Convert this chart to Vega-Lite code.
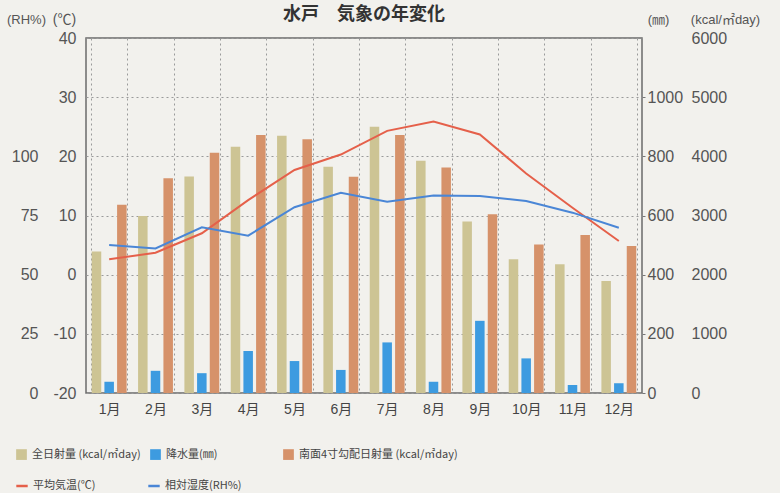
{
  "$schema": "https://vega.github.io/schema/vega-lite/v6.json",
  "width": 556,
  "height": 355,
  "autosize": {"type": "none"},
  "padding": {"left": 86, "top": 38, "right": 138, "bottom": 100},
  "background": "#f2f1ed",
  "title": {
    "text": "水戸　気象の年変化",
    "font": "Noto Sans CJK JP",
    "fontSize": 18,
    "fontWeight": "bold",
    "color": "#333333",
    "frame": "group",
    "anchor": "middle",
    "baseline": "bottom",
    "offset": 0,
    "dy": 30
  },
  "data": {
    "values": [
      {"month": "1月", "series": "全日射量 (kcal/㎡day)", "value": 2390},
      {"month": "2月", "series": "全日射量 (kcal/㎡day)", "value": 2990},
      {"month": "3月", "series": "全日射量 (kcal/㎡day)", "value": 3660},
      {"month": "4月", "series": "全日射量 (kcal/㎡day)", "value": 4160},
      {"month": "5月", "series": "全日射量 (kcal/㎡day)", "value": 4350},
      {"month": "6月", "series": "全日射量 (kcal/㎡day)", "value": 3825},
      {"month": "7月", "series": "全日射量 (kcal/㎡day)", "value": 4500},
      {"month": "8月", "series": "全日射量 (kcal/㎡day)", "value": 3925},
      {"month": "9月", "series": "全日射量 (kcal/㎡day)", "value": 2900},
      {"month": "10月", "series": "全日射量 (kcal/㎡day)", "value": 2260},
      {"month": "11月", "series": "全日射量 (kcal/㎡day)", "value": 2175},
      {"month": "12月", "series": "全日射量 (kcal/㎡day)", "value": 1895},
      {"month": "1月", "series": "降水量(㎜)", "value": 38},
      {"month": "2月", "series": "降水量(㎜)", "value": 75},
      {"month": "3月", "series": "降水量(㎜)", "value": 67},
      {"month": "4月", "series": "降水量(㎜)", "value": 142},
      {"month": "5月", "series": "降水量(㎜)", "value": 108},
      {"month": "6月", "series": "降水量(㎜)", "value": 78},
      {"month": "7月", "series": "降水量(㎜)", "value": 171},
      {"month": "8月", "series": "降水量(㎜)", "value": 38},
      {"month": "9月", "series": "降水量(㎜)", "value": 244},
      {"month": "10月", "series": "降水量(㎜)", "value": 117},
      {"month": "11月", "series": "降水量(㎜)", "value": 27},
      {"month": "12月", "series": "降水量(㎜)", "value": 33},
      {"month": "1月", "series": "南面4寸勾配日射量 (kcal/㎡day)", "value": 3180},
      {"month": "2月", "series": "南面4寸勾配日射量 (kcal/㎡day)", "value": 3630},
      {"month": "3月", "series": "南面4寸勾配日射量 (kcal/㎡day)", "value": 4060},
      {"month": "4月", "series": "南面4寸勾配日射量 (kcal/㎡day)", "value": 4360},
      {"month": "5月", "series": "南面4寸勾配日射量 (kcal/㎡day)", "value": 4290},
      {"month": "6月", "series": "南面4寸勾配日射量 (kcal/㎡day)", "value": 3656},
      {"month": "7月", "series": "南面4寸勾配日射量 (kcal/㎡day)", "value": 4360},
      {"month": "8月", "series": "南面4寸勾配日射量 (kcal/㎡day)", "value": 3810},
      {"month": "9月", "series": "南面4寸勾配日射量 (kcal/㎡day)", "value": 3020},
      {"month": "10月", "series": "南面4寸勾配日射量 (kcal/㎡day)", "value": 2510},
      {"month": "11月", "series": "南面4寸勾配日射量 (kcal/㎡day)", "value": 2670},
      {"month": "12月", "series": "南面4寸勾配日射量 (kcal/㎡day)", "value": 2485},
      {"month": "1月", "series": "平均気温(℃)", "value": 2.6},
      {"month": "2月", "series": "平均気温(℃)", "value": 3.7},
      {"month": "3月", "series": "平均気温(℃)", "value": 7.0},
      {"month": "4月", "series": "平均気温(℃)", "value": 12.6},
      {"month": "5月", "series": "平均気温(℃)", "value": 17.7},
      {"month": "6月", "series": "平均気温(℃)", "value": 20.3},
      {"month": "7月", "series": "平均気温(℃)", "value": 24.3},
      {"month": "8月", "series": "平均気温(℃)", "value": 25.9},
      {"month": "9月", "series": "平均気温(℃)", "value": 23.7},
      {"month": "10月", "series": "平均気温(℃)", "value": 17.1},
      {"month": "11月", "series": "平均気温(℃)", "value": 11.3},
      {"month": "12月", "series": "平均気温(℃)", "value": 5.7},
      {"month": "1月", "series": "相対湿度(RH%)", "value": 62.5},
      {"month": "2月", "series": "相対湿度(RH%)", "value": 61.1},
      {"month": "3月", "series": "相対湿度(RH%)", "value": 70.0},
      {"month": "4月", "series": "相対湿度(RH%)", "value": 66.5},
      {"month": "5月", "series": "相対湿度(RH%)", "value": 78.5},
      {"month": "6月", "series": "相対湿度(RH%)", "value": 84.6},
      {"month": "7月", "series": "相対湿度(RH%)", "value": 80.8},
      {"month": "8月", "series": "相対湿度(RH%)", "value": 83.4},
      {"month": "9月", "series": "相対湿度(RH%)", "value": 83.2},
      {"month": "10月", "series": "相対湿度(RH%)", "value": 81.1},
      {"month": "11月", "series": "相対湿度(RH%)", "value": 76.2},
      {"month": "12月", "series": "相対湿度(RH%)", "value": 69.8}
    ]
  },
  "encoding": {
    "x": {
      "field": "month",
      "type": "nominal",
      "scale": {
        "domain": ["1月", "2月", "3月", "4月", "5月", "6月", "7月", "8月", "9月", "10月", "11月", "12月"],
        "paddingInner": 0.22,
        "paddingOuter": 0.11
      },
      "axis": {
        "title": null,
        "labelAngle": 0,
        "ticks": false,
        "domain": false,
        "grid": true,
        "tickBand": "extent",
        "gridColor": "#9a9a9a",
        "gridDash": [2, 3],
        "gridWidth": 1,
        "labelFont": "Liberation Sans, Noto Sans CJK JP",
        "labelFontSize": 14,
        "labelColor": "#444444",
        "labelPadding": 9
      }
    }
  },
  "layer": [
    {
      "transform": [{"filter": {"field": "series", "oneOf": ["全日射量 (kcal/㎡day)", "南面4寸勾配日射量 (kcal/㎡day)"]}}],
      "mark": {"type": "bar", "opacity": 1},
      "encoding": {
        "color": {
          "field": "series",
          "type": "nominal",
          "scale": {
            "domain": ["全日射量 (kcal/㎡day)", "降水量(㎜)", "南面4寸勾配日射量 (kcal/㎡day)"],
            "range": ["#cdc494", "#3d9be0", "#d6926a"]
          },
          "legend": {
            "orient": "none",
            "legendX": -71,
            "legendY": 410,
            "direction": "horizontal",
            "title": null,
            "padding": 0,
            "symbolType": "square",
            "symbolSize": 115,
            "symbolOpacity": 1,
            "labelFont": "Noto Sans CJK JP",
            "labelFontSize": 11,
            "labelColor": "#444444",
            "labelOffset": 4,
            "labelExpr": "datum.label == '降水量(㎜)' ? datum.label + '\u2800\u2800\u2800\u2800\u2800\u2800\u2800' : datum.label",
            "columnPadding": 8
          }
        },
        "xOffset": {
          "field": "series",
          "type": "nominal",
          "scale": {
            "domain": ["全日射量 (kcal/㎡day)", "降水量(㎜)", "南面4寸勾配日射量 (kcal/㎡day)"],
            "paddingInner": 0.25,
            "paddingOuter": 0.05
          }
        },
        "y": {
          "field": "value",
          "type": "quantitative",
          "scale": {"domain": [0, 6000], "nice": false, "zero": true},
          "axis": {
            "orient": "right",
            "offset": 45,
            "values": [0, 1000, 2000, 3000, 4000, 5000, 6000],
            "format": "d",
            "grid": false,
            "domain": false,
            "ticks": false,
            "labelPadding": 4,
            "title": "(kcal/㎡day)",
            "titleAngle": 0,
            "titleX": 38,
            "titleY": -19,
            "titleAlign": "center",
            "titleBaseline": "middle"
          }
        }
      }
    },
    {
      "transform": [{"filter": {"field": "series", "equal": "降水量(㎜)"}}],
      "mark": {"type": "bar", "opacity": 1},
      "encoding": {
        "color": {"field": "series", "type": "nominal"},
        "xOffset": {
          "field": "series",
          "type": "nominal",
          "scale": {
            "domain": ["全日射量 (kcal/㎡day)", "降水量(㎜)", "南面4寸勾配日射量 (kcal/㎡day)"],
            "paddingInner": 0.25,
            "paddingOuter": 0.05
          }
        },
        "y": {
          "field": "value",
          "type": "quantitative",
          "scale": {"domain": [0, 1200], "nice": false},
          "axis": {
            "orient": "right",
            "offset": 0,
            "values": [0, 200, 400, 600, 800, 1000],
            "format": "d",
            "grid": false,
            "domain": false,
            "ticks": true,
            "tickSize": 3,
            "tickColor": "#777777",
            "labelPadding": 2,
            "title": "(㎜)",
            "titleAngle": 0,
            "titleX": 16,
            "titleY": -19,
            "titleAlign": "center",
            "titleBaseline": "middle"
          }
        }
      }
    },
    {
      "transform": [{"filter": {"field": "series", "equal": "平均気温(℃)"}}],
      "mark": {"type": "line", "strokeWidth": 2},
      "encoding": {
        "stroke": {
          "field": "series",
          "type": "nominal",
          "scale": {
            "domain": ["平均気温(℃)", "相対湿度(RH%)"],
            "range": ["#e5604a", "#4a86d6"]
          },
          "legend": {
            "orient": "none",
            "legendX": -71,
            "legendY": 441,
            "direction": "horizontal",
            "title": null,
            "padding": 0,
            "symbolType": "stroke",
            "symbolSize": 130,
            "symbolStrokeWidth": 2.5,
            "labelFont": "Noto Sans CJK JP",
            "labelFontSize": 11,
            "labelColor": "#444444",
            "labelOffset": 4,
            "columnPadding": 47
          }
        },
        "y": {
          "field": "value",
          "type": "quantitative",
          "scale": {"domain": [-20, 40], "nice": false, "zero": false},
          "axis": {
            "orient": "left",
            "offset": 0,
            "values": [-20, -10, 0, 10, 20, 30, 40],
            "labelExpr": "replace(datum.label, '−', '-')",
            "grid": true,
            "gridColor": "#9a9a9a",
            "gridDash": [2, 3],
            "gridWidth": 1,
            "domain": false,
            "ticks": false,
            "labelPadding": 10,
            "title": "(℃)",
            "titleAngle": 0,
            "titleX": -22,
            "titleY": -19,
            "titleAlign": "center",
            "titleBaseline": "middle",
            "titleFontSize": 14
          }
        }
      }
    },
    {
      "transform": [{"filter": {"field": "series", "equal": "相対湿度(RH%)"}}],
      "mark": {"type": "line", "strokeWidth": 2},
      "encoding": {
        "stroke": {"field": "series", "type": "nominal"},
        "y": {
          "field": "value",
          "type": "quantitative",
          "scale": {"domain": [0, 150], "nice": false},
          "axis": {
            "orient": "left",
            "offset": 40,
            "values": [0, 25, 50, 75, 100],
            "grid": false,
            "domain": false,
            "ticks": false,
            "labelPadding": 8,
            "title": "(RH%)",
            "titleAngle": 0,
            "titleX": -20,
            "titleY": -19,
            "titleAlign": "center",
            "titleBaseline": "middle"
          }
        }
      }
    }
  ],
  "resolve": {"scale": {"y": "independent"}},
  "config": {
    "view": {"stroke": "#6b6b6b", "strokeWidth": 1.5},
    "axis": {
      "labelFont": "Liberation Sans, Noto Sans CJK JP",
      "labelFontSize": 16,
      "labelColor": "#555555",
      "titleFont": "Liberation Sans, Noto Sans CJK JP",
      "titleFontSize": 13,
      "titleFontWeight": "normal",
      "titleColor": "#555555"
    }
  }
}
